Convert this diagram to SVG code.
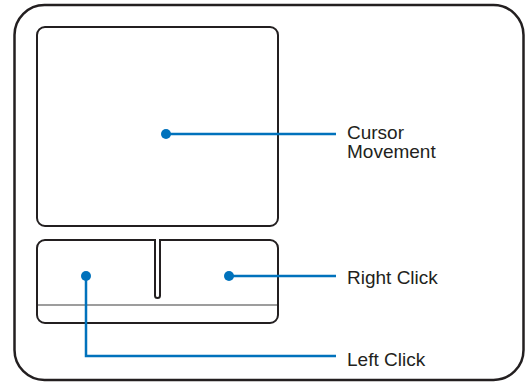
<svg xmlns="http://www.w3.org/2000/svg" width="526" height="382" viewBox="0 0 526 382">
<style>
.frame{fill:none;stroke:#231f20;stroke-width:2.5}
.part{fill:#fff;stroke:#231f20;stroke-width:2}
.sep{stroke:#9d9d9d;stroke-width:2;fill:none}
.lead{fill:none;stroke:#0072bc;stroke-width:2.5}
.dot{fill:#0072bc}
.lbl{font-family:"Liberation Sans",Arial,sans-serif;font-size:19px;fill:#231f20}
</style>
<rect width="526" height="382" fill="#fff"/>
<g id="outer-frame"><rect class="frame" x="14.5" y="5" width="509" height="375" rx="30"/></g>
<g id="touchpad"><rect class="part" x="37" y="27" width="241" height="199" rx="8"/></g>
<g id="buttons">
<path class="part" d="M45 240 H155 V295.5 A2.5 2.5 0 0 0 160 295.5 V240 H270 A8 8 0 0 1 278 248 V315 A8 8 0 0 1 270 323 H45 A8 8 0 0 1 37 315 V248 A8 8 0 0 1 45 240 Z"/>
<line class="sep" x1="38" y1="305" x2="277" y2="305"/>
</g>
<g id="connectors">
<path class="lead" d="M166 134 H336"/>
<path class="lead" d="M229 276 H336"/>
<path class="lead" d="M86 276 V356 H336"/>
<circle class="dot" cx="166" cy="134" r="5"/>
<circle class="dot" cx="229" cy="276" r="5"/>
<circle class="dot" cx="86" cy="276" r="5"/>
</g>
<g id="label-cursor"><text class="lbl" x="347" y="139">Cursor</text><text class="lbl" x="347" y="158">Movement</text></g>
<g id="label-right"><text class="lbl" x="347" y="284">Right Click</text></g>
<g id="label-left"><text class="lbl" x="347" y="366">Left Click</text></g>
</svg>
